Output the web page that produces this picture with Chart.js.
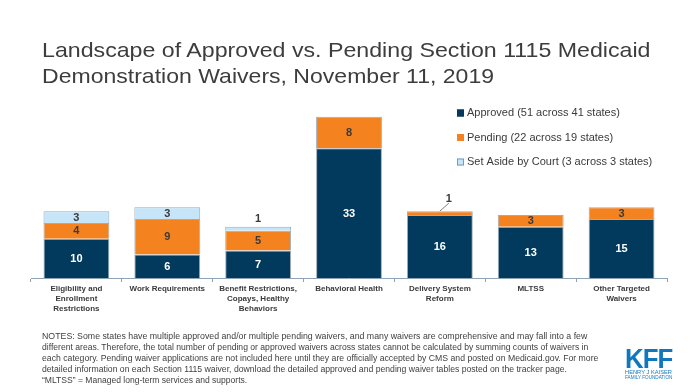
<!DOCTYPE html>
<html>
<head>
<meta charset="utf-8">
<script src="https://cdn.jsdelivr.net/npm/chart.js@4.4.1/dist/chart.umd.min.js"></script>
<style>
  html, body { margin: 0; padding: 0; background: #fff; }
  #wrap { position: relative; width: 698px; height: 392px; overflow: hidden; }
  #chart { position: absolute; left: 0; top: 0; }
  .txt { position: absolute; white-space: nowrap; font-family: 'Liberation Sans', Arial, sans-serif; transform-origin: left top; }
  .title { font-size: 21px; color: #3d3d3d; left: 42px; line-height: 26px; }
  .note { font-size: 9.5px; color: #404040; left: 42px; line-height: 11px; }
  .kff { font-family: 'Liberation Sans Narrow', 'Liberation Sans', sans-serif; font-weight: bold; color: #1077bf; left: 625px; }
</style>
</head>
<body>
<div id="wrap">
  <canvas id="chart" width="698" height="392"></canvas>
  <div class="txt title" id="t1" style="top:37px" data-w="608">Landscape of Approved vs. Pending Section 1115 Medicaid</div>
  <div class="txt title" id="t2" style="top:63px" data-w="452">Demonstration Waivers, November 11, 2019</div>
  <div class="txt note" style="top:330px" data-w="545">NOTES: Some states have multiple approved and/or multiple pending waivers, and many waivers are comprehensive and may fall into a few</div>
  <div class="txt note" style="top:341px" data-w="546">different areas. Therefore, the total number of pending or approved waivers across states cannot be calculated by summing counts of waivers in</div>
  <div class="txt note" style="top:352px" data-w="556">each category. Pending waiver applications are not included here until they are officially accepted by CMS and posted on Medicaid.gov. For more</div>
  <div class="txt note" style="top:363px" data-w="525">detailed information on each Section 1115 waiver, download the detailed approved and pending waiver tables posted on the tracker page.</div>
  <div class="txt note" style="top:374px" data-w="205">“MLTSS” = Managed long-term services and supports.</div>
  <div class="txt kff" style="top:343px;font-size:28px;letter-spacing:-1px" data-w="47">KFF</div>
  <div class="txt kff" style="top:369px;font-size:5px;font-weight:normal" data-w="47">HENRY J KAISER</div>
  <div class="txt kff" style="top:374px;font-size:5px;font-weight:normal" data-w="47">FAMILY FOUNDATION</div>
</div>
<script>
const categories = [
  ['Eligibility and', 'Enrollment', 'Restrictions'],
  ['Work Requirements'],
  ['Benefit Restrictions,', 'Copays, Healthy', 'Behaviors'],
  ['Behavioral Health'],
  ['Delivery System', 'Reform'],
  ['MLTSS'],
  ['Other Targeted', 'Waivers']
];
const approved = [10, 6, 7, 33, 16, 13, 15];
const pending = [4, 9, 5, 8, 1, 3, 3];
const setAside = [3, 3, 1, 0, 0, 0, 0];
const seriesLabels = [
  'Approved (51 across 41 states)',
  'Pending (22 across 19 states)',
  'Set Aside by Court (3 across 3 states)'
];

const COLORS = {
  approved: '#023a5e',
  pending: '#f4821f',
  setAside: '#c7e5f8',
  edge: '#9fadb8',
  text: '#3a3a3a',
  axis: '#8ea3b5'
};

document.querySelectorAll('.txt').forEach(el => {
  const w = +el.dataset.w;
  if (w) el.style.transform = `scaleX(${w / el.scrollWidth})`;
});

// numbers inside the segments, small ones go above the bar
const segmentLabels = {
  id: 'segmentLabels',
  afterDatasetsDraw(chart) {
    const { ctx } = chart;
    ctx.save();
    ctx.font = 'bold 11px "Liberation Sans", Arial, sans-serif';
    ctx.textAlign = 'center';
    ctx.textBaseline = 'middle';
    chart.data.datasets.forEach((ds, di) => {
      chart.getDatasetMeta(di).data.forEach((bar, i) => {
        const v = ds.data[i];
        if (!v) return;
        const top = Math.min(bar.y, bar.base);
        const h = Math.abs(bar.base - bar.y);
        ctx.fillStyle = di === 0 ? '#ffffff' : COLORS.text;
        if (h >= 10) {
          ctx.fillText(v, bar.x, top + h / 2 + 0.5);
        } else if (di === 1) {
          // callout with a leader line
          ctx.strokeStyle = '#7f7f7f';
          ctx.lineWidth = 1;
          ctx.beginPath();
          ctx.moveTo(bar.x, top);
          ctx.lineTo(bar.x + 9, top - 8);
          ctx.stroke();
          ctx.fillText(v, bar.x + 9, top - 12);
        } else {
          ctx.fillText(v, bar.x, top - 8);
        }
      });
    });
    ctx.restore();
  }
};

// legend drawn at the right, stacked
const sideLegend = {
  id: 'sideLegend',
  afterDraw(chart) {
    const { ctx } = chart;
    ctx.save();
    ctx.font = '11px "Liberation Sans", Arial, sans-serif';
    ctx.textBaseline = 'middle';
    chart.data.datasets.forEach((ds, i) => {
      const y = 113 + i * 24.5;
      ctx.fillStyle = ds.backgroundColor;
      ctx.fillRect(457, y - 3.5, 7, 7);
      ctx.strokeStyle = i === 2 ? '#6f9cc0' : ds.backgroundColor;
      ctx.lineWidth = 1;
      ctx.strokeRect(457.5, y - 3, 6, 6);
      ctx.fillStyle = COLORS.text;
      ctx.fillText(ds.label, 467, y);
    });
    ctx.restore();
  }
};

const barStyle = { borderColor: COLORS.edge, borderWidth: 1, barPercentage: 0.725, categoryPercentage: 1 };

new Chart(document.getElementById('chart'), {
  type: 'bar',
  data: {
    labels: categories,
    datasets: [
      { label: seriesLabels[0], data: approved, backgroundColor: COLORS.approved, ...barStyle },
      { label: seriesLabels[1], data: pending, backgroundColor: COLORS.pending, ...barStyle },
      { label: seriesLabels[2], data: setAside, backgroundColor: COLORS.setAside, ...barStyle, borderColor: '#8fb0c8' }
    ]
  },
  options: {
    responsive: false,
    animation: false,
    layout: { padding: { left: 31, right: 31, top: 101, bottom: 74 } },
    plugins: { legend: { display: false }, tooltip: { enabled: false } },
    scales: {
      x: {
        stacked: true,
        afterFit: s => { s.height = 40; },
        grid: { display: true, drawOnChartArea: false, tickLength: 4, color: COLORS.axis, offset: true },
        border: { color: COLORS.axis },
        ticks: {
          color: COLORS.text, padding: 2, maxRotation: 0, autoSkip: false,
          font: { family: '"Liberation Sans", Arial, sans-serif', size: 8, weight: 'bold', lineHeight: 1.25 }
        }
      },
      y: { stacked: true, display: false, min: 0, max: 45 }
    }
  },
  plugins: [segmentLabels, sideLegend]
});
</script>
</body>
</html>
